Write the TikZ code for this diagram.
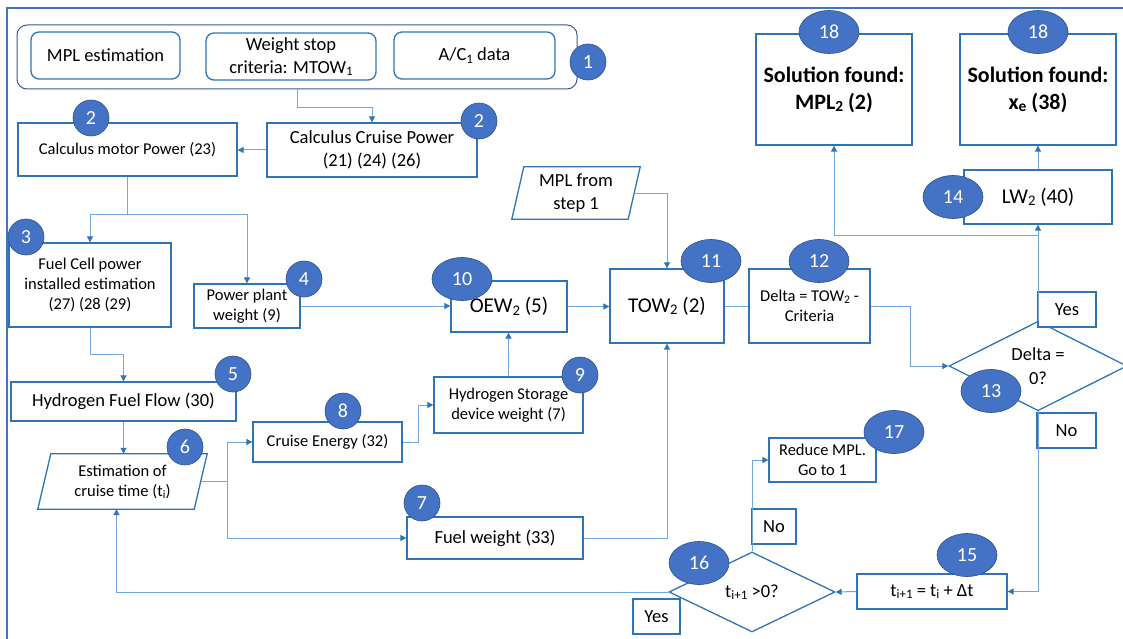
\documentclass[tikz,border=0pt]{standalone}
\usepackage{fontspec}
\setmainfont{Carlito}
\usepackage{graphicx}
\usetikzlibrary{shapes.geometric,arrows.meta,calc}
\definecolor{frameblue}{HTML}{4472C4}
\definecolor{boxblue}{HTML}{2E75B6}
\definecolor{lineblue}{HTML}{6FA8DC}
\definecolor{tipblue}{HTML}{2E75B6}
\definecolor{numfill}{HTML}{4472C4}
\definecolor{numdraw}{HTML}{2F528F}
\definecolor{grpblue}{HTML}{3B5A8E}
\newcommand\mysub[1]{\raisebox{-0.12em}{\scalebox{0.7}{#1}}}
\newcommand\fsmall{\fontsize{16.5}{20}\selectfont}
\newcommand\fnorm{\fontsize{18.5}{23.5}\selectfont}
\newcommand\fnum{\fontsize{20}{24}\selectfont}
\newcommand\flarge{\fontsize{21}{25}\selectfont}
\newcommand\fbig{\fontsize{22}{27}\selectfont\bfseries}
\begin{document}
\begin{tikzpicture}[x=1pt,y=-1pt,
  box/.style={draw=boxblue,line width=1.3pt,fill=white,align=center,inner sep=1pt,font=\fnorm},
  rbox/.style={box,rounded corners=8pt},
  wh/.style 2 args={minimum width=#1,minimum height=#2},
  grpbox/.style={draw=grpblue,line width=1pt,rounded corners=10pt,minimum width=560,minimum height=64,fill=white},
  para/.style={align=center,inner sep=1pt,font=\fnorm},
  dia/.style={diamond,draw=boxblue,line width=1.3pt,fill=white,align=center,inner sep=0pt,font=\fnorm},
  conn/.style={draw=lineblue,line width=1pt},
  arr/.style={conn,-{Triangle[length=6pt,width=6pt,color=tipblue]}},
  num/.style={circle,fill=numfill,draw=numdraw,line width=0.6pt,text=white,minimum size=36,inner sep=0pt,font=\fnum},
  bignum/.style={ellipse,fill=numfill,draw=numdraw,line width=0.6pt,text=white,minimum width=60,minimum height=43,inner sep=0pt,font=\fnum}]
\useasboundingbox (0,0) rectangle (1123,639);
\fill[white] (0,0) rectangle (1123,639);
\draw[frameblue,line width=2.2pt] (7,639) -- (7,8) -- (1123,8);

% group 1
\node[grpbox] (grp) at (297,57) {};
\node[rbox,wh={149}{47}] (mpl) at (105.5,55.5) {MPL estimation};
\node[rbox,wh={170}{47}] (wsc) at (291,56.5) {Weight stop\\criteria: MTOW\mysub{1}};
\node[rbox,wh={161}{47}] (acd) at (474.5,55.5) {A/C\mysub{1} data};

\node[box,wh={210}{54}] (ccp) at (372,150) {Calculus Cruise Power\\(21) (24) (26)};
\node[box,wh={219}{53},font=\fsmall] (cmp) at (127.5,149.5) {Calculus motor Power (23)};
\node[box,wh={162}{84},font=\fsmall] (fcp) at (90,285) {Fuel Cell power\\installed estimation\\(27) (28 (29)};
\node[box,wh={106}{44},font=\fsmall] (ppw) at (247,306) {Power plant\\weight (9)};
\node[box,wh={116}{51},font=\flarge] (oew) at (509,306.5) {OEW\mysub{2} (5)};
\node[para,wh={116}{52}] (mplf) at (576,193) {MPL from\\step 1};
\draw[boxblue,line width=1.3pt] ([xshift=6]mplf.north west) -- ([xshift=6]mplf.north east) -- ([xshift=-6]mplf.south east) -- ([xshift=-6]mplf.south west) -- cycle;
\node[box,wh={114}{74},font=\flarge] (tow) at (667,306) {TOW\mysub{2} (2)};
\node[box,wh={121}{74},font=\fsmall] (dlt) at (809.5,306) {Delta = TOW\mysub{2} -\\Criteria};
\node[dia,minimum width=178,minimum height=80] (d13) at (1038,366) {Delta =\\0?};
\node[box,wh={58}{35}] (yes13) at (1067,309.5) {Yes};
\node[box,wh={59}{35}] (no13) at (1066.5,430.5) {No};
\node[box,wh={148}{54},font=\flarge] (lw2) at (1038,197) {LW\mysub{2} (40)};
\node[box,wh={156}{111},font=\fbig] (sol1) at (834,89.5) {Solution found:\\MPL\mysub{2} (2)};
\node[box,wh={156}{111},font=\fbig] (sol2) at (1038,89.5) {Solution found:\\x\mysub{e} (38)};
\node[box,wh={225}{39}] (hff) at (123.5,401.5) {Hydrogen Fuel Flow (30)};
\node[para,wh={156}{55},font=\fsmall] (est) at (122.5,481.5) {Estimation of\\cruise time (t\mysub{i})};
\draw[boxblue,line width=1.3pt] ([xshift=6.5]est.north west) -- ([xshift=6.5]est.north east) -- ([xshift=-6.5]est.south east) -- ([xshift=-6.5]est.south west) -- cycle;
\node[box,wh={149}{40},font=\fsmall] (cre) at (327.5,442) {Cruise Energy (32)};
\node[box,wh={149}{56},font=\fsmall] (hsd) at (508.5,405) {Hydrogen Storage\\device weight (7)};
\node[box,wh={176}{42}] (few) at (495,538) {Fuel weight (33)};
\node[box,wh={107}{44},font=\fsmall] (rmp) at (822.5,460) {Reduce MPL.\\Go to 1};
\node[box,wh={44}{35}] (no16) at (774,526.5) {No};
\node[dia,minimum width=166,minimum height=80] (d16) at (752,592) {t\mysub{i+1} >0?};
\node[box,wh={47}{35}] (yes16) at (656.5,616.5) {Yes};
\node[box,wh={150}{35}] (tb) at (932,591.5) {t\mysub{i+1} = t\mysub{i} + Δt};

% connectors
\draw[arr] (grp.south) -- ++(0,18) -| (ccp.north);
\draw[arr] (ccp.west) -- (ccp.west -| cmp.east);
\coordinate (j2) at (127.5,214);
\draw[conn] (cmp.south) -- (j2);
\draw[arr] (j2) -| (fcp.north);
\draw[arr] (j2) -| (ppw.north);
\draw[arr] (fcp.south) -- ++(0,27) -| (hff.north);
\draw[arr] (hff.south) -- (hff.south |- est.north);
\coordinate (j6) at (227,481.5);
\draw[conn] (est.east) -- (j6);
\draw[arr] (j6) |- (cre.west);
\draw[arr] (j6) |- (few.west);
\draw[arr] (cre.east) -- ++(16,0) |- (hsd.west);
\draw[arr] (hsd.north) -- (hsd.north |- oew.south);
\draw[arr] (ppw.east) -- (ppw.east -| oew.west);
\draw[arr] (oew.east) -- (oew.east -| tow.west);
\draw[arr] (mplf.east) -| (tow.north);
\draw[conn] (tow.east) -- (dlt.west);
\draw[arr] (dlt.east) -- ++(40,0) |- (d13.west);
\draw[arr] (d13.north) -- (lw2.south);
\coordinate (j13) at (1038,235);
\draw[arr] (j13) -| (sol1.south);
\draw[arr] (lw2.north) -- (sol2.south);
\draw[arr] (d13.south) |- (tb.east);
\draw[arr] (tb.west) -- (d16.east);
\draw[arr] (d16.north) |- (rmp.west);
\draw[arr] (d16.west) -| ([xshift=-6]est.south);
\draw[arr] (few.east) -| (tow.south);

% numbers
\node[num] (c1) at (588,62) {1};
\node[num] (c2a) at (479,121) {2};
\node[num] (c2b) at (91,118) {2};
\node[num] (c3) at (26,237) {3};
\node[num] (c4) at (304,279) {4};
\node[num] (c5) at (233,374) {5};
\node[num] (c6) at (185,447) {6};
\node[num] (c7) at (422,503) {7};
\node[num] (c8) at (343,411) {8};
\node[num] (c9) at (580,375) {9};
\node[bignum] (c10) at (462,279) {10};
\node[bignum] (c11) at (711,261) {11};
\node[bignum] (c12) at (819,261) {12};
\node[bignum] (c13) at (991,391) {13};
\node[bignum] (c14) at (953,197) {14};
\node[bignum] (c15) at (967,555) {15};
\node[bignum] (c16) at (699,563) {16};
\node[bignum] (c17) at (894,432) {17};
\node[bignum] (c18a) at (829,32) {18};
\node[bignum] (c18b) at (1038,32) {18};
\end{tikzpicture}
\end{document}
